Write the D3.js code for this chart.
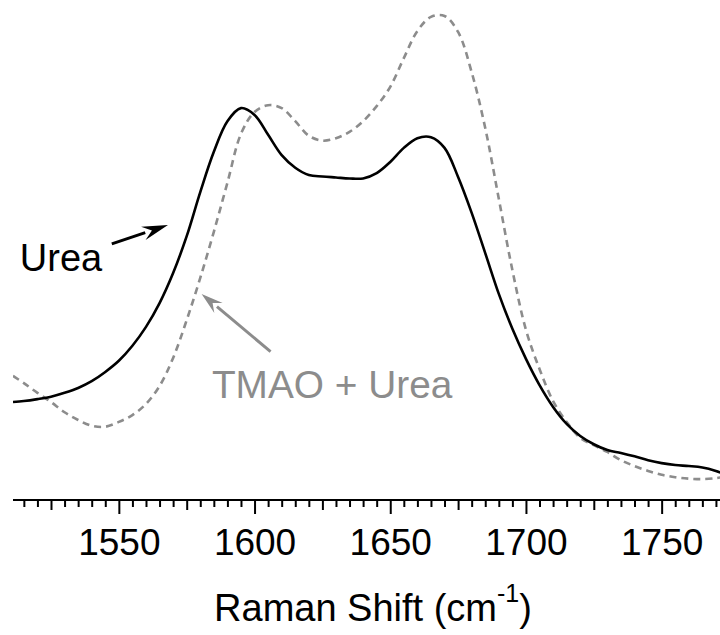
<!DOCTYPE html>
<html>
<head>
<meta charset="utf-8">
<title>Raman spectra</title>
<style type="text/css">
body {
	margin: 0;
	background: #fff;
}

svg text {
	font-family: "Liberation Sans", Arial, Helvetica, sans-serif;
}
</style>
</head>
<body>

<div id="chart"></div>

<script src="https://cdn.jsdelivr.net/npm/d3@7"></script>
<script>
    // Raman shift (cm-1) of each sample point.
    var shift = [1511, 1515, 1520, 1525, 1530, 1535, 1540, 1545, 1550, 1555,
        1560, 1565, 1570, 1575, 1580, 1585, 1590, 1595, 1600, 1605,
        1610, 1615, 1620, 1625, 1630, 1635, 1640, 1645, 1650, 1655,
        1660, 1665, 1670, 1675, 1680, 1685, 1690, 1695, 1700, 1705,
        1710, 1715, 1720, 1725, 1730, 1735, 1740, 1745, 1750, 1755,
        1760, 1765, 1770, 1772];

    // Intensity (arbitrary units), urea alone.
    var urea = [20.2, 20.4, 20.8, 21.3, 22.1, 23.1, 24.5, 26.4, 28.7, 31.8,
        35.7, 40.6, 46.8, 54.4, 63.5, 71.8, 78.1, 80.8, 79.4, 75.3,
        71.1, 68.5, 67.0, 66.7, 66.5, 66.3, 66.3, 67.4, 69.7, 72.6,
        74.6, 74.8, 72.6, 66.6, 59.2, 50.9, 42.5, 35.3, 29.1, 23.7,
        19.2, 15.7, 13.2, 11.5, 10.3, 9.7, 9.0, 8.2, 7.6, 7.2,
        7.0, 6.7, 6.0, 5.6];

    // Intensity (arbitrary units), TMAO + urea.
    var tmaoUrea = [25.6, 24.1, 22.1, 20.2, 18.1, 16.5, 15.3, 15.1, 16.1, 17.5,
        19.8, 23.5, 29.3, 37.1, 45.8, 55.3, 65.4, 75.5, 80.0, 81.4,
        80.8, 78.1, 75.1, 74.1, 74.6, 75.9, 78.1, 81.2, 85.2, 91.1,
        96.7, 99.6, 99.8, 96.5, 88.2, 76.7, 62.1, 47.4, 35.1, 27.0,
        20.4, 16.1, 12.8, 11.3, 9.9, 8.2, 7.0, 6.0, 5.2, 4.7,
        4.4, 4.3, 4.5, 4.7];

    // Axis ticks.
    var majorTicks = [1550, 1600, 1650, 1700, 1750];
    var midTicks = [1525, 1575, 1625, 1675, 1725];
    var minorTicks = d3.range(1515, 1775, 5).filter(function(v) {
        return v % 25 !== 0;
    });

    var width = 720,
        height = 635;

    var svg = d3.select('#chart').append('svg')
        .attr('width', width)
        .attr('height', height);

    svg.append('rect')
        .attr('width', width)
        .attr('height', height)
        .attr('fill', 'white');

    var x = d3.scaleLinear().domain([1511, 1771.5]).range([13, 720]);
    var y = d3.scaleLinear().domain([0, 100]).range([500, 15]);

    svg.append('clipPath').attr('id', 'plot-clip')
        .append('rect')
        .attr('x', 13).attr('y', 0)
        .attr('width', 707).attr('height', 500);

    var line = d3.line()
        .x(function(d) { return x(d[0]); })
        .y(function(d) { return y(d[1]); })
        .curve(d3.curveCatmullRom.alpha(0.5));

    var plot = svg.append('g').attr('clip-path', 'url(#plot-clip)');

    plot.append('path')
        .datum(d3.zip(shift, tmaoUrea))
        .attr('d', line)
        .attr('fill', 'none')
        .attr('stroke', '#8c8c8c')
        .attr('stroke-width', 2.6)
        .attr('stroke-dasharray', '7,5');

    plot.append('path')
        .datum(d3.zip(shift, urea))
        .attr('d', line)
        .attr('fill', 'none')
        .attr('stroke', '#000')
        .attr('stroke-width', 2.6);

    // x axis, three tick levels
    var axisG = svg.append('g').attr('transform', 'translate(0,500)');

    function tickLayer(values, size) {
        var g = axisG.append('g')
            .call(d3.axisBottom(x).tickValues(values).tickSize(size).tickSizeOuter(0).tickFormat(''));
        g.select('.domain').remove();
        g.selectAll('.tick line').attr('stroke', '#000').attr('stroke-width', 2);
        return g;
    }

    tickLayer(minorTicks, 7);
    tickLayer(midTicks, 10);
    var majorG = tickLayer(majorTicks, 14);
    majorG.selectAll('.tick text')
        .text(function(d) { return d; })
        .attr('y', 55)
        .attr('dy', 0)
        .attr('fill', '#000')
        .style('font-size', '37px');

    axisG.append('line')
        .attr('x1', x.range()[0]).attr('x2', x.range()[1])
        .attr('stroke', '#000')
        .attr('stroke-width', 2.2);

    // axis title
    var title = svg.append('text')
        .attr('x', 373)
        .attr('y', 621)
        .attr('text-anchor', 'middle')
        .attr('fill', '#000')
        .style('font-size', '38px');
    title.append('tspan').text('Raman Shift (cm');
    title.append('tspan').attr('dy', -19).style('font-size', '25px').text('-1');
    title.append('tspan').attr('dy', 19).text(')');

    // annotations: label, arrow tail and tip in data units
    function arrow(x1, y1, x2, y2, color, headLen, headW) {
        var px1 = x(x1), py1 = y(y1), px2 = x(x2), py2 = y(y2);
        var a = Math.atan2(py2 - py1, px2 - px1);
        var bx = px2 - headLen * Math.cos(a), by = py2 - headLen * Math.sin(a);
        svg.append('line')
            .attr('x1', px1).attr('y1', py1)
            .attr('x2', bx + 2 * Math.cos(a)).attr('y2', by + 2 * Math.sin(a))
            .attr('stroke', color)
            .attr('stroke-width', 3);
        var nx = -Math.sin(a) * headW / 2, ny = Math.cos(a) * headW / 2;
        svg.append('path')
            .attr('d', 'M' + px2 + ',' + py2 + 'L' + (bx + nx) + ',' + (by + ny) +
                'L' + (bx + 0.35 * (px2 - bx)) + ',' + (by + 0.35 * (py2 - by)) +
                'L' + (bx - nx) + ',' + (by - ny) + 'Z')
            .attr('fill', color);
    }

    svg.append('text')
        .attr('x', x(1513.5))
        .attr('y', y(47.2))
        .attr('fill', '#000')
        .style('font-size', '38px')
        .text('Urea');
    arrow(1547.4, 52.8, 1568.1, 56.7, '#000', 26, 14);

    svg.append('text')
        .attr('x', x(1584.3))
        .attr('y', y(21.0))
        .attr('fill', '#8c8c8c')
        .style('font-size', '38.8px')
        .text('TMAO + Urea');
    arrow(1605.9, 30.6, 1580.5, 42.5, '#8c8c8c', 22, 13);
</script>
</body>
</html>
